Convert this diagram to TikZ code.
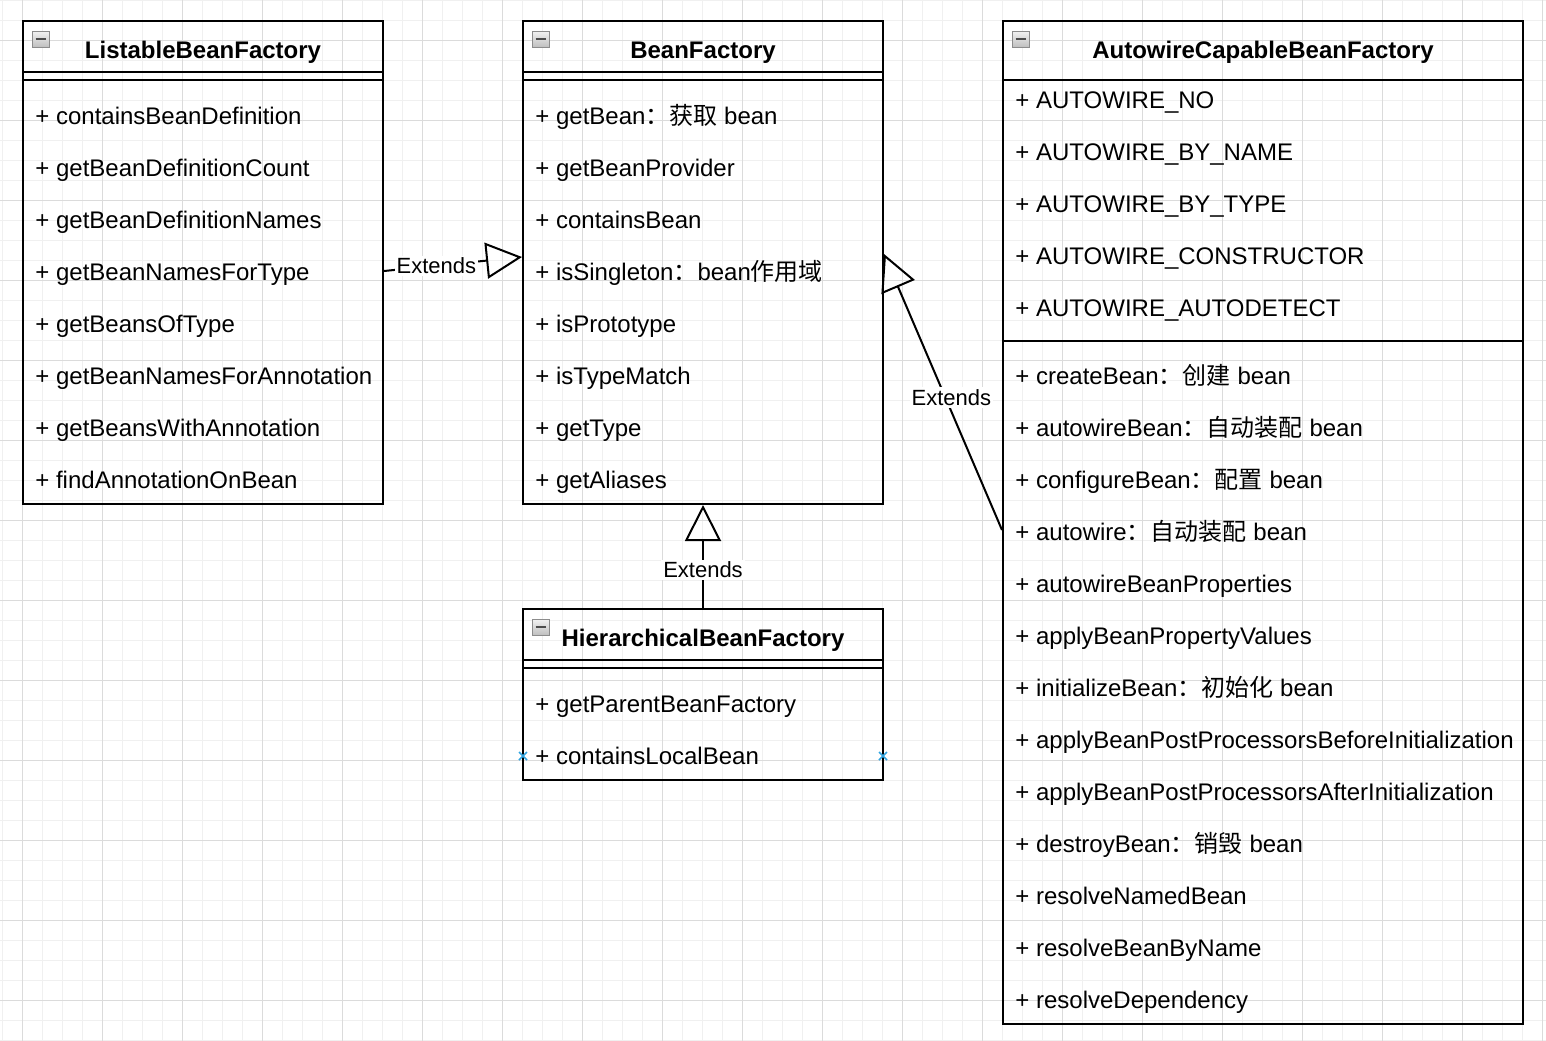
\documentclass[tikz,border=0pt]{standalone}
\usepackage{fontspec}
\setmainfont{Liberation Sans}
\newfontfamily\cjk{Noto Sans CJK SC}
\usetikzlibrary{arrows.meta,fit}
\newcommand{\zh}[1]{{\cjk #1}}
\definecolor{pinblue}{RGB}{50,165,225}
\tikzset{
  classbox/.style={draw, line width=1pt, inner sep=0pt},
  sep/.style={line width=1pt},
  member/.style={anchor=base west, inner sep=0pt, font=\fontsize{12pt}{14pt}\selectfont},
  title/.style={anchor=base, inner sep=0pt, font=\fontsize{12pt}{14pt}\selectfont\bfseries},
  icon/.style={draw=black!45, line width=0.5pt, top color=black!5, bottom color=black!25},
  minus/.style={line width=1.2pt, black!70},
  extends/.style={draw, line width=1pt, -{Triangle[open, length=18pt, width=18pt, line width=1pt]}},
  lbl/.style={fill=white, inner sep=1pt, font=\fontsize{11pt}{13pt}\selectfont},
  xmark/.style={line width=0.8pt, pinblue},
  minorgrid/.style={draw=black!6, line width=0.5pt, step=10pt},
  majorgrid/.style={draw=black!14, line width=0.5pt, step=40pt}
}
\begin{document}
\begin{tikzpicture}[x=0.5pt, y=-0.5pt]
\useasboundingbox (0,0) rectangle (1546,1040);
\fill[white] (0,0) rectangle (1546,1040);
\begin{scope}
\clip (0,0) rectangle (1546,1040);
\draw[minorgrid, shift={(2,0)}] (-40,-40) grid (1580,1080);
\draw[majorgrid, shift={(22,40)}] (-160,-160) grid (1640,1120);
\end{scope}

\node[classbox, fit={(23,21) (383,504)}] (listable) {};
\node[classbox, fit={(523,21) (883,504)}] (bean) {};
\node[classbox, fit={(523,609) (883,780)}] (hier) {};
\node[classbox, fit={(1003,21) (1523,1024)}] (autowire) {};

\draw[sep] (23,72) -- (383,72) (23,80) -- (383,80);
\draw[sep] (523,72) -- (883,72) (523,80) -- (883,80);
\draw[sep] (523,660) -- (883,660) (523,668) -- (883,668);
\draw[sep] (1003,80) -- (1523,80) (1003,341) -- (1523,341);

\draw[icon] (32,31) rectangle (49,47);  \draw[minus] (35.5,39) -- (45.5,39);
\draw[icon] (532,31) rectangle (549,47); \draw[minus] (535.5,39) -- (545.5,39);
\draw[icon] (532,619) rectangle (549,635); \draw[minus] (535.5,627) -- (545.5,627);
\draw[icon] (1012,31) rectangle (1029,47); \draw[minus] (1015.5,39) -- (1025.5,39);

\node[title] (listabletitle) at (203,58.5) {ListableBeanFactory};
\node[title] (beantitle) at (703,58.5) {BeanFactory};
\node[title] (hiertitle) at (703,646.5) {HierarchicalBeanFactory};
\node[title] (autowiretitle) at (1263,58.5) {AutowireCapableBeanFactory};

\node[member] (l1) at (35,124) {+ containsBeanDefinition};
\node[member] (l2) at (35,176) {+ getBeanDefinitionCount};
\node[member] (l3) at (35,228) {+ getBeanDefinitionNames};
\node[member] (l4) at (35,280) {+ getBeanNamesForType};
\node[member] (l5) at (35,332) {+ getBeansOfType};
\node[member] (l6) at (35,384) {+ getBeanNamesForAnnotation};
\node[member] (l7) at (35,436) {+ getBeansWithAnnotation};
\node[member] (l8) at (35,488) {+ findAnnotationOnBean};

\node[member] (b1) at (535,124) {+ getBean\zh{：获取} bean};
\node[member] (b2) at (535,176) {+ getBeanProvider};
\node[member] (b3) at (535,228) {+ containsBean};
\node[member] (b4) at (535,280) {+ isSingleton\zh{：}bean\zh{作用域}};
\node[member] (b5) at (535,332) {+ isPrototype};
\node[member] (b6) at (535,384) {+ isTypeMatch};
\node[member] (b7) at (535,436) {+ getType};
\node[member] (b8) at (535,488) {+ getAliases};

\node[member] (h1) at (535,712) {+ getParentBeanFactory};
\node[member] (h2) at (535,764) {+ containsLocalBean};

\node[member] (a1) at (1015,108) {+ AUTOWIRE\_NO};
\node[member] (a2) at (1015,160) {+ AUTOWIRE\_BY\_NAME};
\node[member] (a3) at (1015,212) {+ AUTOWIRE\_BY\_TYPE};
\node[member] (a4) at (1015,264) {+ AUTOWIRE\_CONSTRUCTOR};
\node[member] (a5) at (1015,316) {+ AUTOWIRE\_AUTODETECT};
\node[member] (a6) at (1015,384) {+ createBean\zh{：创建} bean};
\node[member] (a7) at (1015,436) {+ autowireBean\zh{：自动装配} bean};
\node[member] (a8) at (1015,488) {+ configureBean\zh{：配置} bean};
\node[member] (a9) at (1015,540) {+ autowire\zh{：自动装配} bean};
\node[member] (a10) at (1015,592) {+ autowireBeanProperties};
\node[member] (a11) at (1015,644) {+ applyBeanPropertyValues};
\node[member] (a12) at (1015,696) {+ initializeBean\zh{：初始化} bean};
\node[member] (a13) at (1015,748) {+ applyBeanPostProcessorsBeforeInitialization};
\node[member] (a14) at (1015,800) {+ applyBeanPostProcessorsAfterInitialization};
\node[member] (a15) at (1015,852) {+ destroyBean\zh{：销毁} bean};
\node[member] (a16) at (1015,904) {+ resolveNamedBean};
\node[member] (a17) at (1015,956) {+ resolveBeanByName};
\node[member] (a18) at (1015,1008) {+ resolveDependency};

\draw[xmark] (519,752) -- (527,760) (519,760) -- (527,752);
\draw[xmark] (879,752) -- (887,760) (879,760) -- (887,752);

\path[extends] ([yshift=-4.25pt]listable.east) -- node[lbl, pos=0.38] (ext1) {Extends} ([yshift=2.75pt]bean.west);
\path[extends] (hier.north) -- node[lbl, pos=0.37] (ext2) {Extends} (bean.south);
\path[extends] ([yshift=-3.75pt]autowire.west) -- node[lbl, pos=0.48, xshift=3pt] (ext3) {Extends} ([yshift=4.25pt]bean.east);
\end{tikzpicture}
\end{document}
